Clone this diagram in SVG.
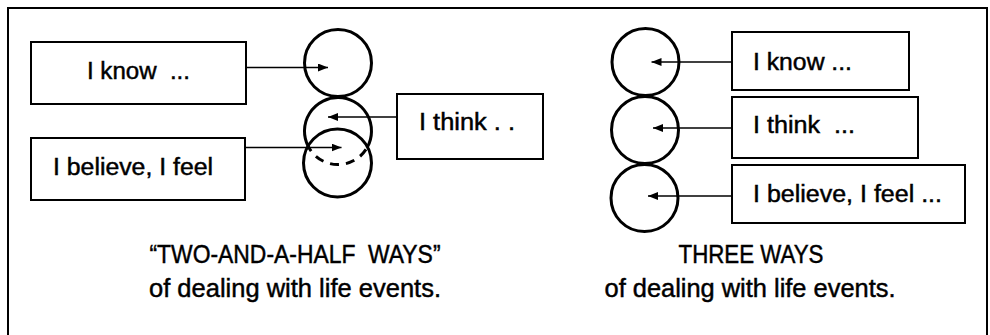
<svg xmlns="http://www.w3.org/2000/svg" width="990" height="335" viewBox="0 0 990 335">
  <style>
    .frame { fill: none; stroke: #000; stroke-width: 2; }
    .box { fill: #fff; stroke: #000; stroke-width: 2; }
    .circ { fill: none; stroke: #000; stroke-width: 3; }
    .conn { fill: none; stroke: #000; stroke-width: 1.4; }
    .lbl { font-family: "Liberation Sans", Arial, sans-serif; font-size: 23px; fill: #000; stroke: #000; stroke-width: 0.45; }
    .cap { font-family: "Liberation Sans", Arial, sans-serif; font-size: 25px; fill: #000; stroke: #000; stroke-width: 0.45; text-anchor: middle; }
  </style>
  <defs>
    <marker id="ah" viewBox="0 0 10 8" refX="10" refY="4" markerWidth="10" markerHeight="8" markerUnits="userSpaceOnUse" orient="auto">
      <path d="M0,0 L10,4 L0,8 Z" fill="#000"/>
    </marker>
  </defs>
  <rect width="990" height="335" fill="#fff"/>
  <rect class="frame" x="8" y="8" width="979" height="340"/>

  <!-- Left group: two-and-a-half ways -->
  <g id="circle-left-know"><circle class="circ" cx="338" cy="63" r="33.5"/></g>
  <g id="circle-left-think">
    <path class="circ" d="M308,146 A33.5,33.5 0 1 1 367.5,146.9"/>
    <path class="circ" d="M367.5,146.9 A33.5,33.5 0 0 1 308,146" stroke-dasharray="9 7" stroke-dashoffset="-3"/>
  </g>
  <g id="circle-left-believe"><circle class="circ" cx="337.5" cy="163" r="34"/></g>

  <g id="box-left-know">
    <rect class="box" x="31" y="42" width="215" height="62"/>
    <text class="lbl" x="87" y="79" textLength="103" lengthAdjust="spacingAndGlyphs" xml:space="preserve">I know  ...</text>
  </g>
  <g id="box-left-believe">
    <rect class="box" x="31" y="138" width="214" height="62"/>
    <text class="lbl" x="53" y="175" textLength="160" lengthAdjust="spacingAndGlyphs">I believe, I feel</text>
  </g>
  <g id="box-left-think">
    <rect class="box" x="397" y="94" width="146" height="65"/>
    <text class="lbl" x="419" y="130" textLength="96" lengthAdjust="spacingAndGlyphs">I think . .</text>
  </g>

  <!-- Right group: three ways -->
  <g id="circle-right-know"><circle class="circ" cx="645.5" cy="62" r="33.5"/></g>
  <g id="circle-right-think"><circle class="circ" cx="645" cy="130" r="33.5"/></g>
  <g id="circle-right-believe"><circle class="circ" cx="644.5" cy="198" r="33.5"/></g>

  <g id="box-right-know">
    <rect class="box" x="732" y="32" width="177" height="58"/>
    <text class="lbl" x="753" y="70" textLength="99" lengthAdjust="spacingAndGlyphs">I know ...</text>
  </g>
  <g id="box-right-think">
    <rect class="box" x="732" y="97" width="186" height="61"/>
    <text class="lbl" x="753" y="133" textLength="102" lengthAdjust="spacingAndGlyphs" xml:space="preserve">I think  ...</text>
  </g>
  <g id="box-right-believe">
    <rect class="box" x="732" y="165" width="233" height="58"/>
    <text class="lbl" x="753" y="202" textLength="189" lengthAdjust="spacingAndGlyphs">I believe, I feel ...</text>
  </g>

  <g id="connectors">
    <line class="conn" x1="246" y1="67.5" x2="328" y2="67.5" marker-end="url(#ah)"/>
    <line class="conn" x1="397" y1="117" x2="328" y2="117" marker-end="url(#ah)"/>
    <line class="conn" x1="245" y1="147.5" x2="341.5" y2="147.5" marker-end="url(#ah)"/>
    <line class="conn" x1="732" y1="62" x2="651.5" y2="62" marker-end="url(#ah)"/>
    <line class="conn" x1="732" y1="128" x2="653" y2="128" marker-end="url(#ah)"/>
    <line class="conn" x1="732" y1="196" x2="648" y2="196" marker-end="url(#ah)"/>
  </g>

  <g id="caption-left">
    <text class="cap" x="295" y="263" textLength="291" lengthAdjust="spacingAndGlyphs" xml:space="preserve">“TWO-AND-A-HALF  WAYS”</text>
    <text class="cap" x="295" y="296.5" textLength="292" lengthAdjust="spacingAndGlyphs">of dealing with life events.</text>
  </g>
  <g id="caption-right">
    <text class="cap" x="751" y="263" textLength="145" lengthAdjust="spacingAndGlyphs">THREE WAYS</text>
    <text class="cap" x="750" y="296.5" textLength="291" lengthAdjust="spacingAndGlyphs">of dealing with life events.</text>
  </g>
</svg>
